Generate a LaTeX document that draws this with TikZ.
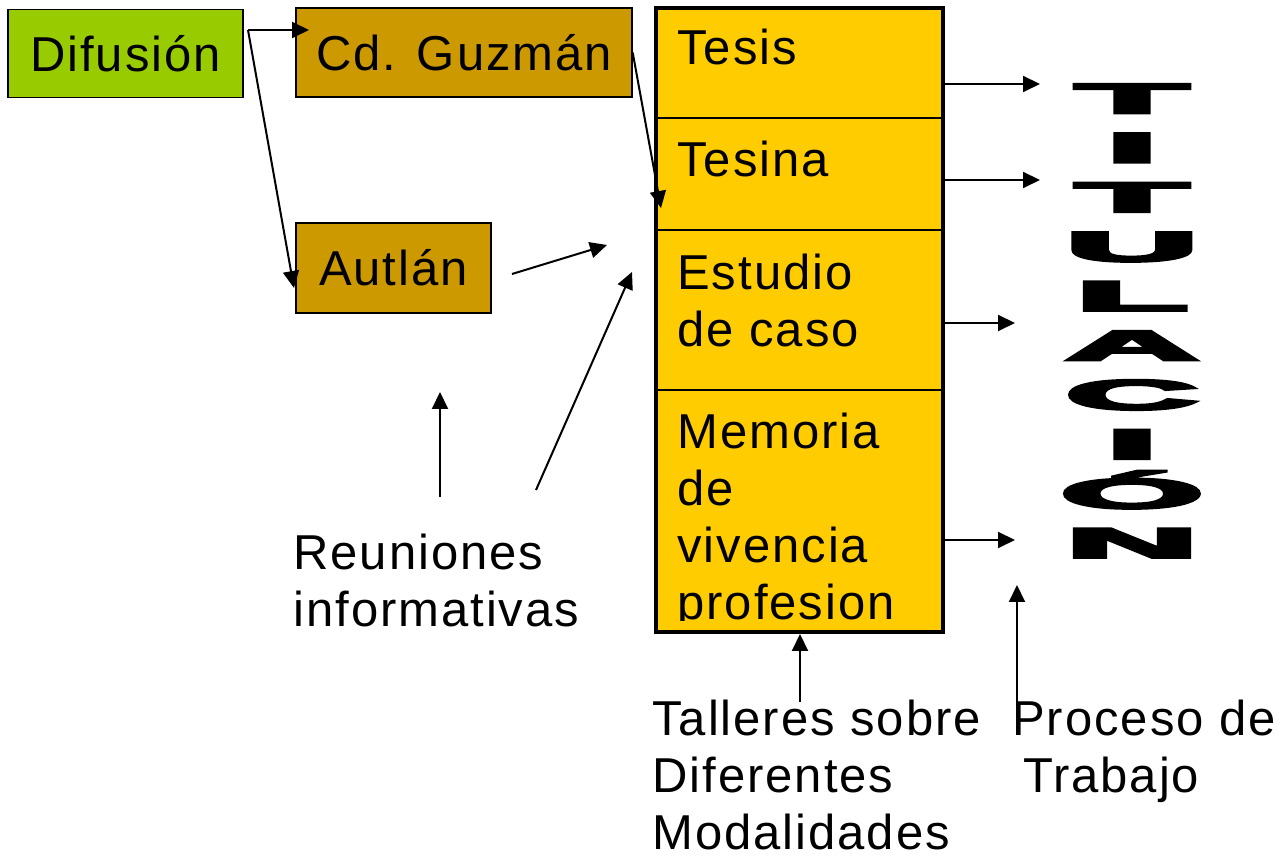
\documentclass[tikz,border=0pt]{standalone}
\usepackage{fontspec}
\setmainfont[LetterSpace=4]{Liberation Sans}
\newfontfamily\heavyfont[FakeBold=6]{Liberation Sans}
\usetikzlibrary{arrows.meta}
\definecolor{verde}{HTML}{99CC00}
\definecolor{ocre}{HTML}{CC9900}
\definecolor{amarillo}{HTML}{FFCC00}

\begin{document}
\begin{tikzpicture}[
x=0.5pt,y=-0.5pt,
every node/.style={inner sep=0pt,font=\fontsize{24.5}{28.5}\selectfont},
caja/.style={draw,line width=0.7pt,minimum height=44pt},
letra/.style={anchor=base,font=\fontsize{21}{21}\heavyfont\bfseries},
flecha/.style={->,line width=1pt},
>={Triangle[length=8.5pt,width=8pt]}
]
\useasboundingbox (0,0) rectangle (1282,860);

% cajas de difusion
\node[caja,fill=verde,minimum width=117.5pt] (dif) at (125.5,53.5) {Difusión};
\node[caja,fill=ocre,minimum width=168pt,minimum height=44.5pt] (guz) at (464,52.5) {Cd. Guzmán};
\node[caja,fill=ocre,minimum width=97.5pt,minimum height=45pt] (aut) at (393.5,268) {Autlán};

% columna de modalidades
\node[draw,line width=2pt,fill=amarillo,minimum width=143.5pt,minimum height=312pt] (col) at (799.5,320) {};
\foreach \yy in {118,230,390}
  \draw[line width=0.8pt] (656,\yy) -- (943,\yy);
\begin{scope}
\clip (656,8) rectangle (943,621);
\node[anchor=base west] (tesis) at (677,65) {Tesis};
\node[anchor=base west] (tesina) at (677,177) {Tesina};
\node[anchor=base west,align=left] (estudio) at (677,347) {Estudio\\de caso};
\node[anchor=base west,align=left] (memoria) at (677,620) {Memoria\\de\\vivencia\\profesion};
\end{scope}

% etiquetas
\node[anchor=base west,align=left] (reun) at (293,627) {Reuniones\\informativas};
\node[anchor=base west,align=left] (tall) at (652,850) {Talleres sobre\\Diferentes\\Modalidades};
\node[anchor=base west,align=left] (proc) at (1012,793) {Proceso de\\\hspace*{0.22em}Trabajo};

% titulo vertical
\foreach \ch [count=\i from 0] in {T,I,T,U,L,A,C,I,Ó,N}
  \node[letra] (tit\i) at (1132,{113+49.4*\i}) {\scalebox{4.35}[1]{\ch}};

% flechas
\coordinate (bif) at (248,30);
\coordinate (pguz) at (309,30);
\coordinate (paut) at (294,288);
\coordinate (ptesina) at (661,208);
\coordinate (autsal) at (512,274);
\coordinate (autpta) at (607,245);
\coordinate (reunsal) at (536,490);
\coordinate (reunpta) at (632,272);
\coordinate (reunarr) at (440,497);
\coordinate (reunpta2) at (440,392);
\coordinate (t1) at (1040,84);
\coordinate (t2) at (1040,180);
\coordinate (t3) at (1015,323);
\coordinate (t4) at (1015,540);
\coordinate (tallsal) at (800,702);
\coordinate (procsal) at (1017,705);
\coordinate (procpta) at (1017,585);

\draw[flecha] (bif) -- (pguz);
\draw[flecha] (bif) -- (paut);
\draw[flecha] (guz.east) -- (ptesina);
\draw[flecha] (autsal) -- (autpta);
\draw[flecha] (reunsal) -- (reunpta);
\draw[flecha] (reunarr) -- (reunpta2);
\foreach \t in {t1,t2,t3,t4}
  \draw[flecha] (col.east |- \t) -- (\t);
\draw[flecha] (tallsal) -- (col.south -| tallsal);
\draw[flecha] (procsal) -- (procpta);

\end{tikzpicture}
\end{document}
